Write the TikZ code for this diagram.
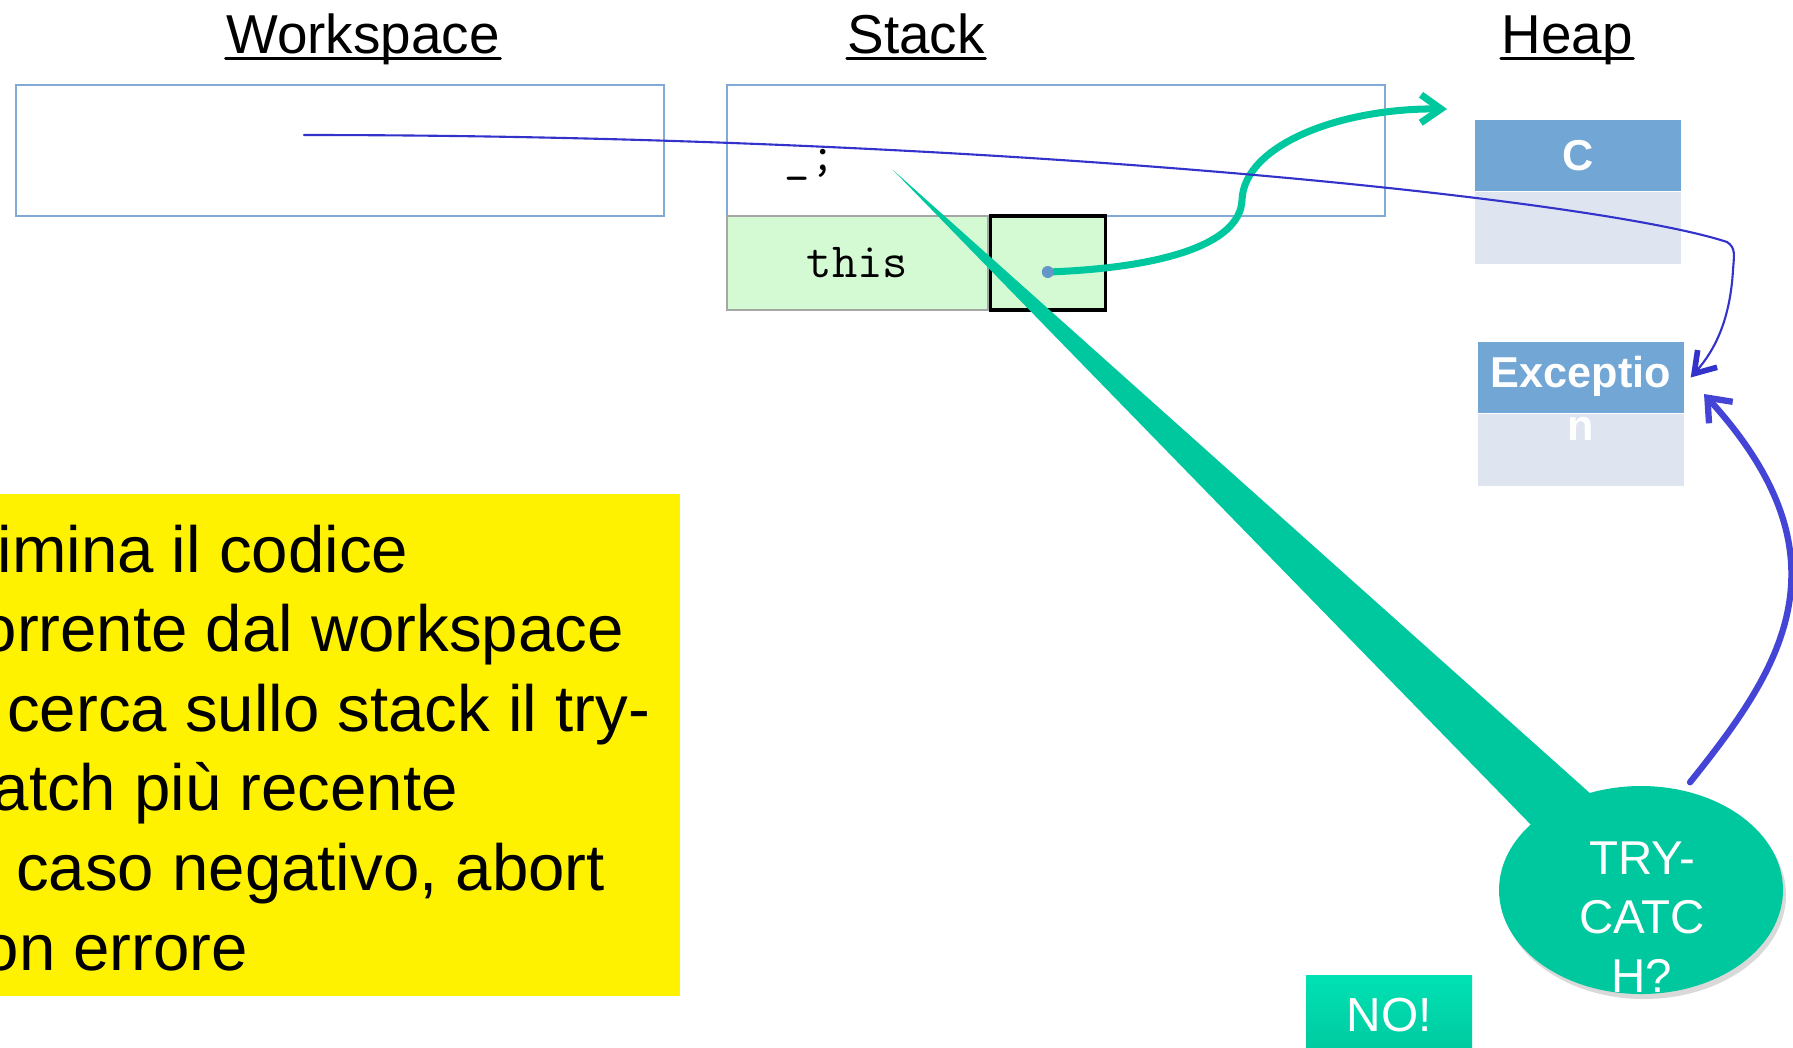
\documentclass[tikz,border=0pt]{standalone}
\usepackage{fontspec}
\setmainfont{Liberation Sans}
\usetikzlibrary{arrows.meta,positioning,shapes.geometric,shadows}
\definecolor{frameblue}{RGB}{130,170,215}
\definecolor{headblue}{RGB}{114,166,212}
\definecolor{bodyblue}{RGB}{222,229,240}
\definecolor{rowgreen}{RGB}{211,250,211}
\definecolor{tealc}{RGB}{0,200,158}
\definecolor{teallight}{RGB}{0,226,180}
\definecolor{blueline}{RGB}{51,51,204}
\definecolor{bluearrow}{RGB}{68,68,214}
\definecolor{dotblue}{RGB}{100,150,200}

\begin{document}
\begin{tikzpicture}[line cap=round]
% Styles
\tikzstyle{title}=[inner sep=0pt, anchor=base, font=\fontsize{15.6}{18}\selectfont]
\tikzstyle{frame}=[draw=frameblue, line width=0.6pt, inner sep=0pt, minimum height=1.31cm]
\tikzstyle{objhead}=[fill=headblue, minimum width=2.06cm, minimum height=0.71cm, inner sep=0pt]
\tikzstyle{objbody}=[fill=bodyblue, minimum width=2.06cm, minimum height=0.72cm, inner sep=0pt]
\tikzstyle{objtext}=[text=white, inner sep=0pt, align=center, font=\fontsize{12.3}{15}\selectfont\bfseries]
\tikzstyle{notetext}=[anchor=base west, inner sep=0pt, font=\fontsize{18.6}{22}\selectfont]
\tikzstyle{cell}=[fill=rowgreen, minimum height=0.94cm, inner sep=0pt, font=\ttfamily\fontsize{14}{16}\selectfont]
\useasboundingbox (0,0) rectangle (17.93,-10.47);
% titles
\foreach \id/\x/\t in {ws/3.63/Workspace, st/9.16/Stack, hp/15.67/Heap} {
  \node[title] (\id) at (\x,-0.53) {\t};
  \draw[line width=0.85pt] ([yshift=-0.05cm]\id.base west) -- ([yshift=-0.05cm]\id.base east);
}
% workspace and stack
\node[frame, minimum width=6.48cm] (wsbox) at (3.40,-1.505) {};
\node[frame, minimum width=6.58cm] (stbox) at (10.56,-1.505) {};
\node[inner sep=0pt, font=\ttfamily\fontsize{14}{16}\selectfont] (semi) at (8.10,-1.65) {\_;};
\node[cell, draw=gray!70, line width=0.4pt, minimum width=2.61cm] (thisvar) at (8.575,-2.63) {this};
\node[cell, draw=black, line width=0.9pt, minimum width=1.15cm, right=0pt of thisvar] (thisval) {};
\coordinate (ptr) at ([yshift=-0.09cm]thisval.center);
% heap objects
\node[objhead] (chead) at (15.78,-1.555) {};
\node[objbody, below=0pt of chead] (cbody) {};
\node[objtext] (ctext) at (chead.center) {C};
\node[objhead] (exhead) at (15.81,-3.775) {};
\node[objbody, below=0pt of exhead] (exbody) {};
\node[objtext] (extext) at (15.81,-3.98) {Exceptio\\n};
% note
\node[fill=yellow, minimum width=6.80cm, minimum height=5.02cm, inner sep=0pt] (note) at (3.40,-7.45) {};
\foreach \i/\dx/\t in {0/-0.03/{imina il codice}, 1/-0.20/{orrente dal workspace},
  2/0.065/{cerca sullo stack il try-}, 3/-0.08/{atch più recente},
  4/0.155/{caso negativo, abort}, 5/-0.18/{on errore}}
  \node[notetext] (line\i) at (\dx,-5.72-0.796*\i) {\t};
% pointer from this
\coordinate (arrtip) at (14.47,-1.09);
\draw[tealc, line width=2pt, -{Straight Barb[length=2mm,width=2.8mm]}] (ptr)
  .. controls (11.6,-2.68) and (12.40,-2.45) .. (12.42,-2.0)
  .. controls (12.44,-1.45) and (13.4,-1.08) .. (arrtip);
\fill[dotblue] (ptr) circle (0.06);
% reference from workspace
\coordinate (wsref) at (3.04,-1.35);
\draw[blueline, line width=0.6pt, -{Straight Barb[length=2mm,width=2.6mm,line width=1.6pt]}] (wsref)
  .. controls (10.0,-1.35) and (16.0,-2.0) .. (17.27,-2.42)
  .. controls (17.36,-2.48) and (17.34,-2.55) .. (17.33,-2.70)
  .. controls (17.30,-3.20) and (17.15,-3.50) .. ([xshift=0.06cm]exhead.east);
% callout
\coordinate (tip) at (8.93,-1.70);
\fill[tealc] (tip) -- (15.36,-8.30) -- (15.92,-7.95) -- cycle;
\node[ellipse, fill=tealc, minimum width=2.84cm, minimum height=2.08cm, inner sep=0pt,
  drop shadow={shadow xshift=0.03cm, shadow yshift=-0.05cm, opacity=0.3}] (try) at (16.41,-8.90) {};
\node[text=white, align=center, inner sep=0pt, font=\fontsize{13.5}{16.8}\selectfont] (trytext) at (16.42,-9.17) {TRY-\\CATC\\H?};
\draw[bluearrow, line width=1.8pt, -{Straight Barb[length=2mm,width=3.2mm]}] ([xshift=0.49cm,yshift=0.03cm]try.north)
  .. controls (17.8,-6.7) and (18.55,-5.6) .. (17.04,-3.94);
% answer
\node[top color=teallight, bottom color=tealc, minimum width=1.66cm, minimum height=0.8cm, inner sep=0pt,
  text=white, font=\fontsize{13.6}{16}\selectfont] (no) at (13.89,-10.15) {NO!};
\end{tikzpicture}
\end{document}
